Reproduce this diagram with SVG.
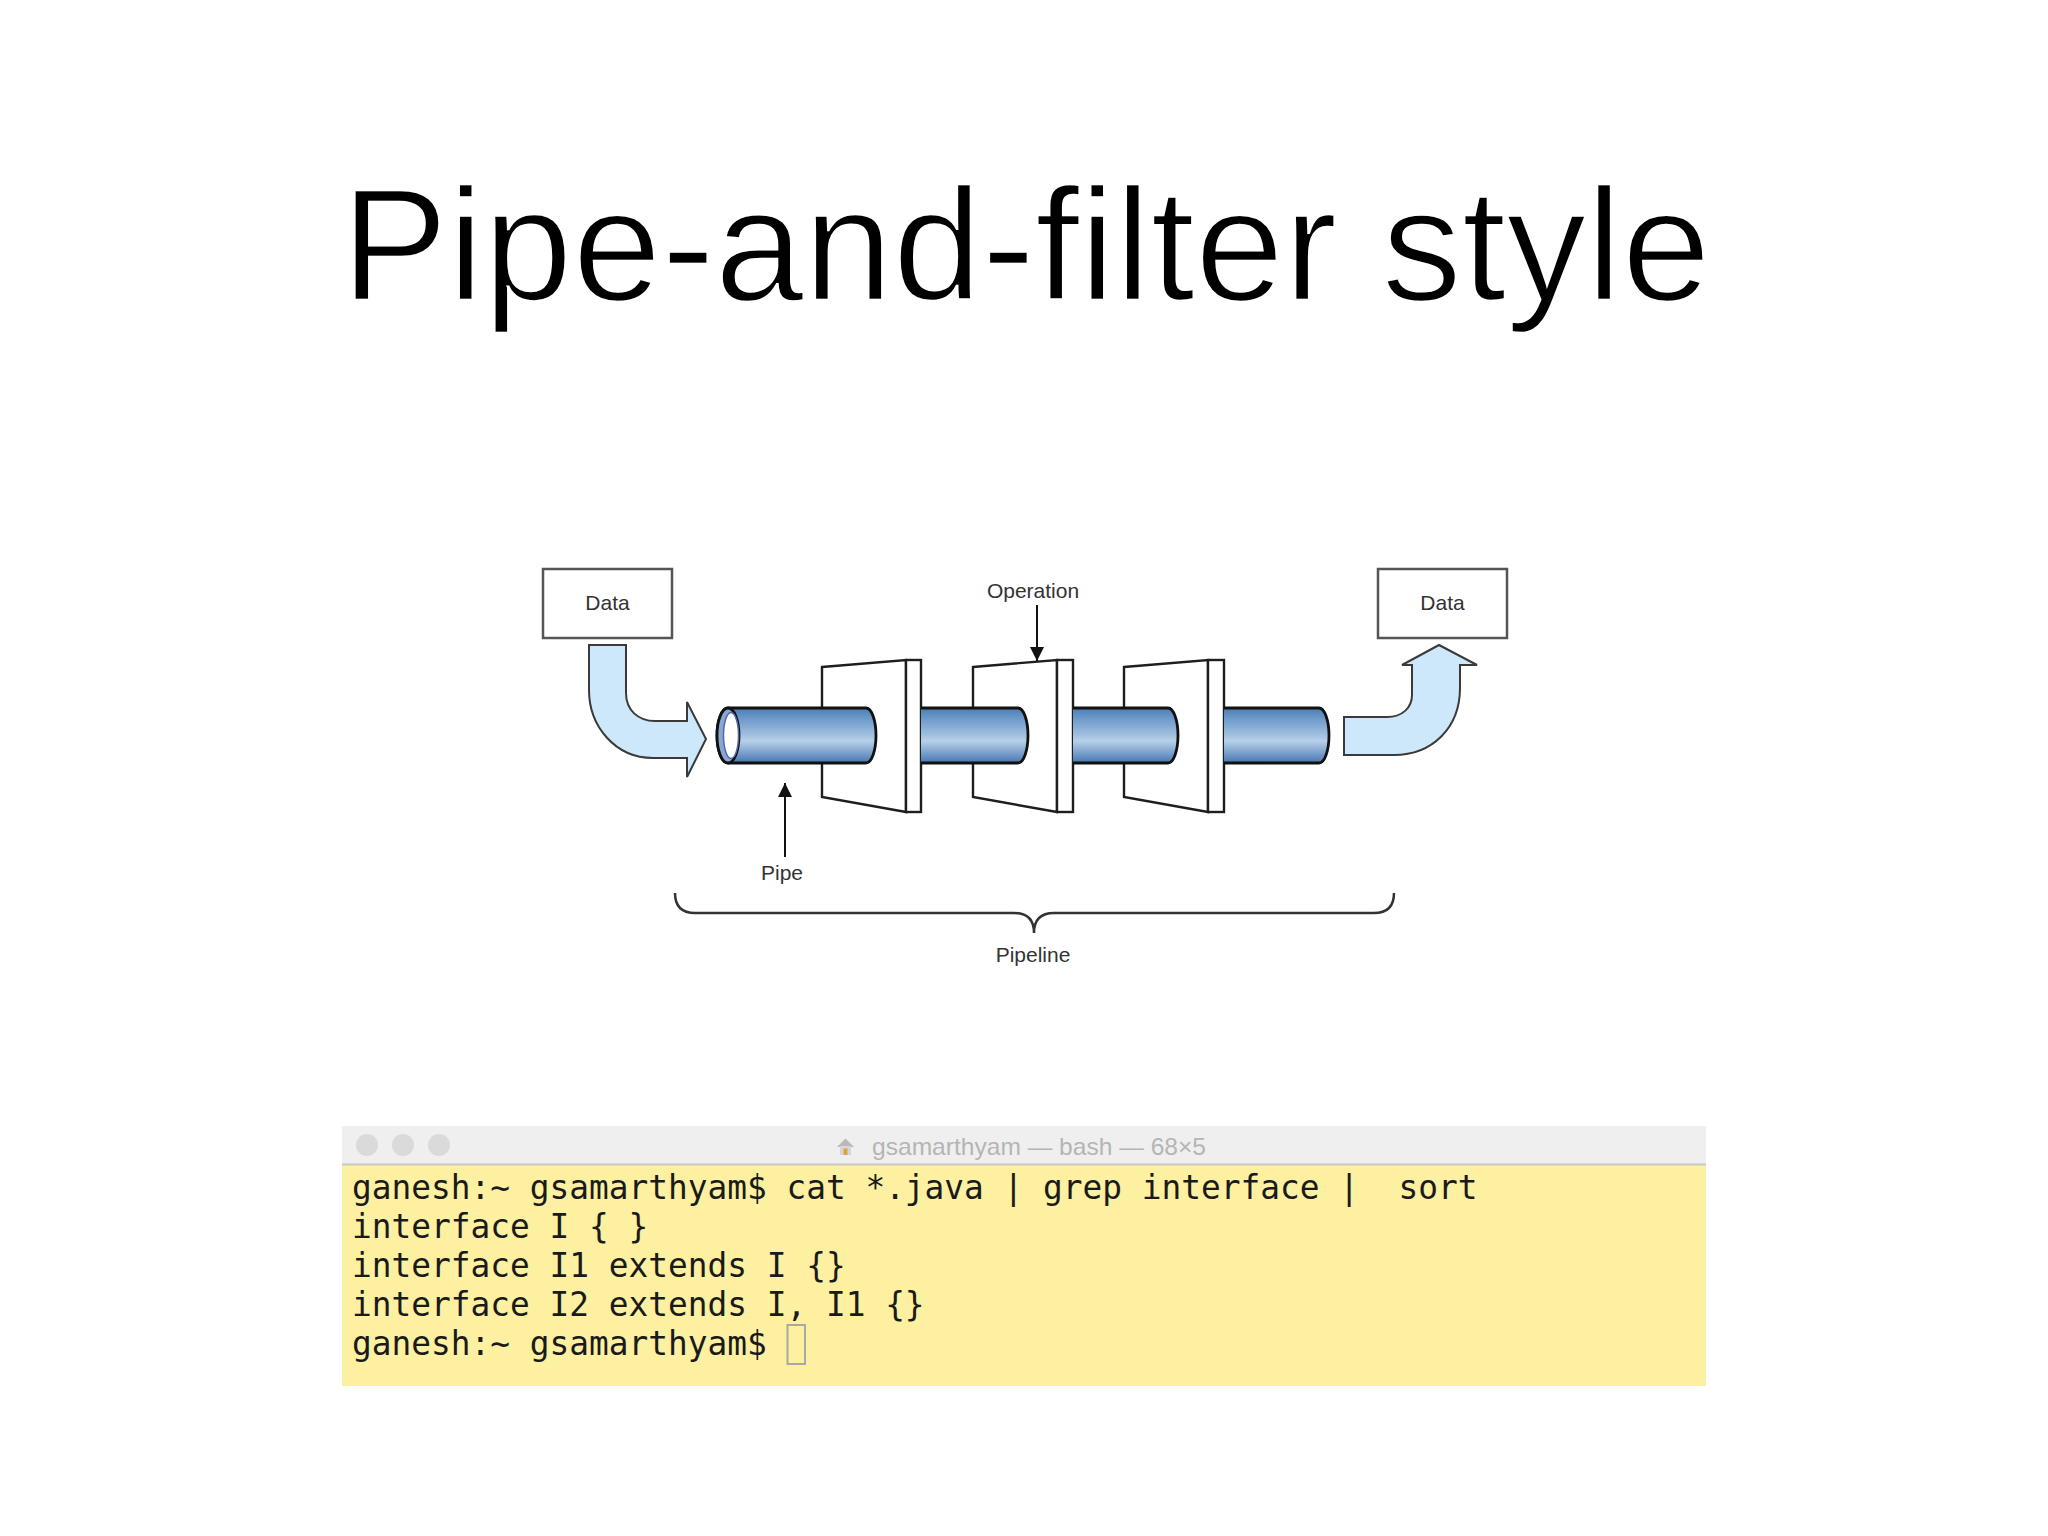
<svg xmlns="http://www.w3.org/2000/svg" width="2048" height="1536" viewBox="0 0 2048 1536">
<defs>
<linearGradient id="pipeGrad" x1="0" y1="0" x2="0" y2="1">
<stop offset="0" stop-color="#4a7cb5"/>
<stop offset="0.18" stop-color="#6a98c9"/>
<stop offset="0.5" stop-color="#a3c1e0"/>
<stop offset="0.6" stop-color="#b8d0e8"/>
<stop offset="0.82" stop-color="#789fcd"/>
<stop offset="1" stop-color="#4676ad"/>
</linearGradient>
<marker id="arrowHead" viewBox="0 0 14 14" refX="14" refY="7" markerWidth="14" markerHeight="14" markerUnits="userSpaceOnUse" orient="auto">
<path d="M0,0 L14,7 L0,14 Z" fill="#111"/>
</marker>
</defs>
<style>
.box{fill:#ffffff;stroke:#555555;stroke-width:2.5}
.lbl{font-family:"Liberation Sans",Arial,sans-serif;font-size:21px;fill:#333333}
.bigArrow{fill:#cde8fa;stroke:#3a3a3a;stroke-width:2;stroke-linejoin:miter}
.filter{fill:#ffffff;stroke:#1e1e1e;stroke-width:2.4;stroke-linejoin:miter}
.pipe{fill:url(#pipeGrad);stroke:#111111;stroke-width:2.8}
.line{stroke:#111111;stroke-width:2;fill:none}
.term{font-family:"DejaVu Sans Mono","Liberation Mono",monospace;font-size:32.8px;fill:#1a1a1a}
</style>
<rect width="2048" height="1536" fill="#ffffff"/>

<text id="title" x="1026" y="300" text-anchor="middle" font-family="Liberation Sans, Arial, sans-serif" font-size="160" fill="#000000" stroke="#ffffff" stroke-width="2.5">Pipe-and-filter style</text>

<g id="data-in">
<rect class="box" x="543" y="569" width="129" height="69"/>
<text class="lbl" x="607.5" y="610" text-anchor="middle">Data</text>
</g>
<g id="data-out">
<rect class="box" x="1378" y="569" width="129" height="69"/>
<text class="lbl" x="1442.5" y="610" text-anchor="middle">Data</text>
</g>

<g id="flow-in">
<path class="bigArrow" d="M589,645 L626,645 L626,693 C626,710 638,721 655,721 L687,721 L687,702 L706,739 L687,777 L687,758 L653,758 C615,758 589,726 589,690 Z"/>
</g>
<g id="flow-out">
<path class="bigArrow" d="M1344,717 L1387,717 C1402,717 1412,708 1412,695 L1412,665 L1402,665 L1439,645 L1477,665 L1460,665 L1460,688 C1460,728 1432,755 1394,755 L1344,755 Z"/>
</g>

<g id="filter-1">
<path class="filter" d="M822,667 L906,660 L906,812 L822,797 Z"/>
</g>
<g id="pipe-1">
<path class="pipe" d="M728,708 L866,708 A10,27.5 0 0 1 866,763 L728,763 A11,27.5 0 0 1 728,708 Z"/>
<ellipse cx="728" cy="735.5" rx="11" ry="27.5" fill="#86a9d2" stroke="#111111" stroke-width="2.8"/>
<ellipse cx="731" cy="735.5" rx="7.5" ry="23" fill="#ffffff" stroke="#5566aa" stroke-width="1.5"/>
</g>
<g id="filter-1-plate">
<rect class="filter" x="906" y="660" width="15" height="152"/>
</g>

<g id="filter-2">
<path class="filter" d="M973,667 L1057,660 L1057,812 L973,797 Z"/>
</g>
<g id="pipe-2">
<path class="pipe" d="M921,708 L1018,708 A10,27.5 0 0 1 1018,763 L921,763"/>
</g>
<g id="filter-2-plate">
<rect class="filter" x="1057" y="660" width="16" height="152"/>
</g>

<g id="filter-3">
<path class="filter" d="M1124,667 L1208,660 L1208,812 L1124,797 Z"/>
</g>
<g id="pipe-3">
<path class="pipe" d="M1073,708 L1168,708 A10,27.5 0 0 1 1168,763 L1073,763"/>
</g>
<g id="filter-3-plate">
<rect class="filter" x="1208" y="660" width="16" height="152"/>
</g>

<g id="pipe-4">
<path class="pipe" d="M1224,708 L1319,708 A10,27.5 0 0 1 1319,763 L1224,763"/>
</g>

<g id="connectors">
<line class="line" x1="1037" y1="605" x2="1037" y2="661" marker-end="url(#arrowHead)"/>
<line class="line" x1="785" y1="857" x2="785" y2="783" marker-end="url(#arrowHead)"/>
<path d="M675,893 Q675,913 695,913 L1014,913 Q1034,913 1034,933 Q1034,913 1054,913 L1374,913 Q1394,913 1394,893" fill="none" stroke="#333333" stroke-width="2.5"/>
</g>

<g id="labels">
<text class="lbl" x="1033" y="598" text-anchor="middle">Operation</text>
<text class="lbl" x="782" y="880" text-anchor="middle">Pipe</text>
<text class="lbl" x="1033" y="962" text-anchor="middle">Pipeline</text>
</g>

<g id="terminal">
<rect x="342" y="1126" width="1364" height="260" fill="#fdf0a0"/>
<rect x="342" y="1126" width="1364" height="38" fill="#efefef"/>
<line x1="342" y1="1164.5" x2="1706" y2="1164.5" stroke="#c8c8c8" stroke-width="2"/>
<circle cx="367" cy="1145" r="11" fill="#dadada"/>
<circle cx="403" cy="1145" r="11" fill="#dadada"/>
<circle cx="439" cy="1145" r="11" fill="#dadada"/>
<polygon points="837,1147 845.5,1138.5 854,1147" fill="#b9b9b9"/>
<rect x="840" y="1146" width="11" height="9" fill="#d6d6d6"/>
<rect x="843.5" y="1148.5" width="4" height="6.5" fill="#e3a040"/>
<text x="872" y="1155" font-family="Liberation Sans, Arial, sans-serif" font-size="24" fill="#b5b5b5" textLength="334" lengthAdjust="spacingAndGlyphs">gsamarthyam — bash — 68×5</text>
<text class="term" x="352" y="1199" xml:space="preserve">ganesh:~ gsamarthyam$ cat *.java | grep interface |  sort</text>
<text class="term" x="352" y="1238">interface I { }</text>
<text class="term" x="352" y="1277">interface I1 extends I {}</text>
<text class="term" x="352" y="1316">interface I2 extends I, I1 {}</text>
<text class="term" x="352" y="1355" xml:space="preserve">ganesh:~ gsamarthyam$ </text>
<rect x="787.5" y="1325" width="17.5" height="39" fill="none" stroke="#a8a8a8" stroke-width="2"/>
</g>
</svg>
